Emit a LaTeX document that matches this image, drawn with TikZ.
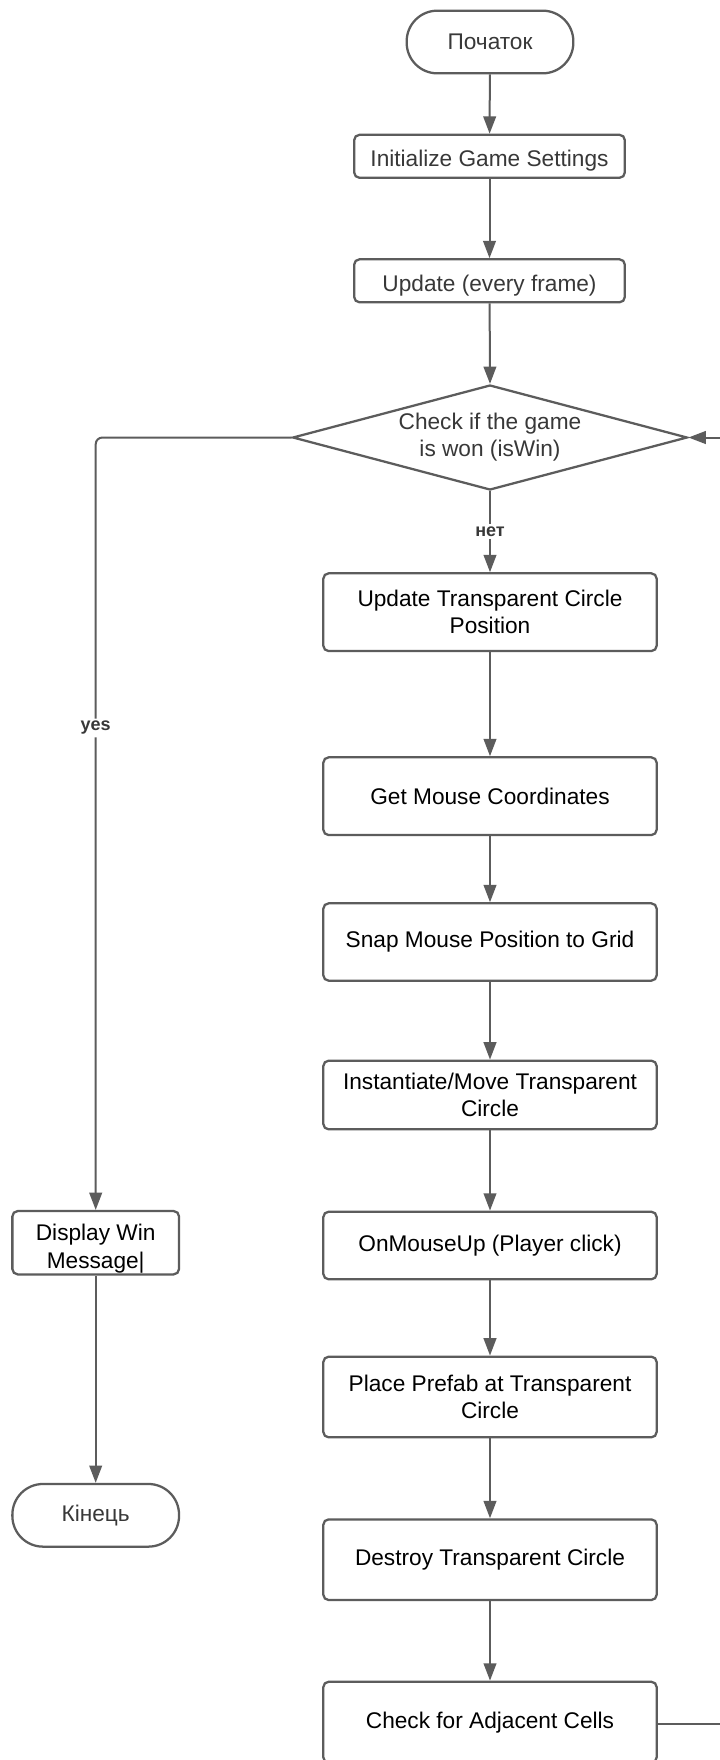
\documentclass[tikz,border=0pt]{standalone}
\usepackage{fontspec}
\setmainfont{Liberation Sans}
\usetikzlibrary{arrows.meta,shapes.geometric,calc}
\definecolor{linegray}{HTML}{5C5C5C}
\definecolor{txtgray}{HTML}{383838}
\tikzset{
  base/.style={draw=linegray, line width=1.7pt, fill=white, inner sep=0pt, align=center,
    font=\fontsize{17}{20.4}\selectfont},
  term/.style={base, rounded corners=23pt, minimum width=125pt, minimum height=47pt, text=txtgray},
  smallbox/.style={base, rounded corners=4pt, minimum width=203pt, minimum height=32.25pt, text=txtgray,
    text height=15.4pt, text depth=0pt},
  mainbox/.style={base, rounded corners=4pt, minimum width=250pt, text=black},
  decision/.style={base, diamond, aspect=3.76, minimum width=296pt, minimum height=78.75pt, text=txtgray},
  conn/.style={draw=linegray, line width=1.5pt, -{Triangle[length=13pt,width=9.5pt]}},
  lab/.style={fill=white, text=txtgray, inner sep=2pt, font=\fontsize{13.5}{16}\selectfont\bfseries}
}
\begin{document}
\begin{tikzpicture}[x=0.75pt, y=-0.75pt]
\useasboundingbox (0,0) rectangle (720,1760);
\clip (0,0) rectangle (720,1760);
\fill[white] (0,0) rectangle (720,1760);

\node[term] (start) at (490,42) {Початок};
\node[smallbox] (init) at (489.5,156.3) {Initialize Game Settings};
\node[smallbox] (update) at (489.5,280.8) {Update (every frame)};
\node[decision] (check) at (490,437.5) {Check if the game\\is won (isWin)};
\node[mainbox, minimum height=58.3pt] (utc) at (490,612.2) {Update Transparent Circle\\Position};
\node[mainbox, minimum height=58.3pt] (mouse) at (490,796.2) {Get Mouse Coordinates};
\node[mainbox, minimum height=58pt] (snap) at (490,942) {Snap Mouse Position to Grid};
\node[mainbox, minimum height=51.5pt] (inst) at (490,1095) {Instantiate/Move Transparent\\Circle};
\node[mainbox, minimum height=50.7pt] (click) at (490,1245.5) {OnMouseUp (Player click)};
\node[mainbox, minimum height=60.5pt] (place) at (490,1397) {Place Prefab at Transparent\\Circle};
\node[mainbox, minimum height=60.5pt] (destroy) at (490,1559.7) {Destroy Transparent Circle};
\node[mainbox, minimum height=60.7pt] (adj) at (490,1722.2) {Check for Adjacent Cells};

\node[base, rounded corners=4pt, minimum width=125pt, minimum height=47.5pt,
  label={[yshift=-4.5pt, align=center, text=black, font=\fontsize{17}{20.4}\selectfont]center:Display Win\\Message|}]
  (win) at (95.7,1242.7) {};
\node[term] (finish) at (95.7,1515.3) {Кінець};

\draw[conn] (start) -- (init);
\draw[conn] (init) -- (update);
\draw[conn] (update) -- (check.north);
\draw[conn] (check.south) -- node[lab] {нет} (utc);
\draw[conn] (utc) -- (mouse);
\draw[conn] (mouse) -- (snap);
\draw[conn] (snap) -- (inst);
\draw[conn] (inst) -- (click);
\draw[conn] (click) -- (place);
\draw[conn] (place) -- (destroy);
\draw[conn] (destroy) -- (adj);
\draw[conn, rounded corners=5pt] (check.west) -| node[lab, pos=0.688] {yes} (win.north);
\draw[conn] (win) -- (finish);
\coordinate (loop) at (760,1724);
\draw[conn] (adj.east |- loop) -- (loop) |- (check.east);
\end{tikzpicture}
\end{document}
